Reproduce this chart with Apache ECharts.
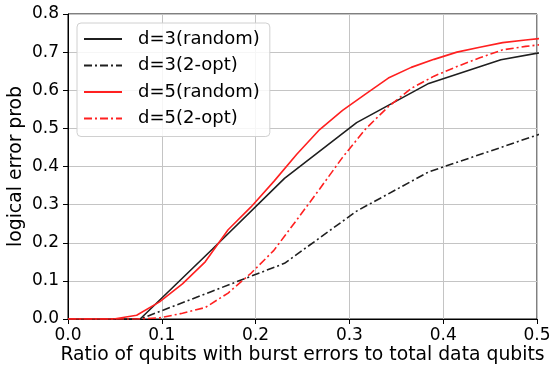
<!DOCTYPE html>
<html>
<head>
<meta charset="utf-8">
<script src="https://cdn.jsdelivr.net/npm/echarts@6/dist/echarts.min.js"></script>
<style>html,body{margin:0;padding:0;background:#fff}#c{width:550px;height:367px}</style>
</head>
<body>
<div id="c"></div>
<script>
// x positions (fraction of data qubits) for d=3 and d=5
const d3X = [0, 0.0769, 0.1538, 0.2308, 0.3077, 0.3846, 0.4615, 0.5385];
const d3Random = [0, 0, 0.183, 0.369, 0.515, 0.618, 0.68, 0.714];
const d3TwoOpt = [0, 0, 0.073, 0.146, 0.283, 0.386, 0.45, 0.515];

const d5X = [0, 0.0244, 0.0488, 0.0732, 0.0976, 0.122, 0.1463, 0.1707, 0.1951, 0.2195, 0.2439,
  0.2683, 0.2927, 0.3171, 0.3415, 0.3659, 0.3902, 0.4146, 0.439, 0.4634, 0.4878, 0.5122];
const d5Random = [0, 0, 0, 0.01, 0.045, 0.092, 0.15, 0.234, 0.294, 0.361, 0.432,
  0.497, 0.547, 0.59, 0.632, 0.66, 0.681, 0.70, 0.713, 0.725, 0.732, 0.738];
const d5TwoOpt = [0, 0, 0, 0, 0.003, 0.015, 0.03, 0.068, 0.12, 0.18, 0.26,
  0.341, 0.424, 0.498, 0.557, 0.605, 0.637, 0.662, 0.685, 0.706, 0.715, 0.722];

const seriesNames = ['d=3(random)', 'd=3(2-opt)', 'd=5(random)', 'd=5(2-opt)'];
const xTicks = ['0.0', '0.1', '0.2', '0.3', '0.4', '0.5'];
const yTicks = ['0.0', '0.1', '0.2', '0.3', '0.4', '0.5', '0.6', '0.7', '0.8'];

const pair = (xs, ys) => xs.map((x, i) => [x, ys[i]]);
const BLACK = '#1f1f1f', RED = '#ff2020';
const DASHDOT = [8, 3, 2, 3];
const font = 'DejaVu Sans';

function mk(name, xs, ys, color, dash) {
  return {
    name, type: 'line', data: pair(xs, ys), symbol: 'none', showSymbol: false,
    clip: true, animation: false,
    lineStyle: { color, width: 1.6, type: dash ? DASHDOT : 'solid' },
    itemStyle: { color }
  };
}

const chart = echarts.init(document.getElementById('c'), null, { renderer: 'canvas' });
chart.setOption({
  animation: false,
  backgroundColor: '#fff',
  textStyle: { fontFamily: font },
  grid: { left: 68, right: 13, top: 14, bottom: 48, containLabel: false, outerBoundsMode: 'none',
    show: true, borderColor: '#000', borderWidth: 1, backgroundColor: 'transparent' },
  xAxis: {
    type: 'value', min: 0, max: 0.5, interval: 0.1,
    name: 'Ratio of qubits with burst errors to total data qubits',
    nameLocation: 'middle', nameGap: 27, nameMoveOverlap: false,
    nameTextStyle: { fontFamily: font, fontSize: 18.8, color: '#000' },
    axisLine: { show: true, lineStyle: { color: '#000', width: 1 } },
    axisTick: { show: true, inside: false, length: 5, lineStyle: { color: '#000' } },
    axisLabel: { fontFamily: font, fontSize: 17, color: '#000', margin: 8,
      formatter: v => xTicks[Math.round(v * 10)] },
    splitLine: { show: true, lineStyle: { color: '#c4c4c4', width: 1 } }
  },
  yAxis: {
    type: 'value', min: 0, max: 0.8, interval: 0.1,
    name: 'logical error prob',
    nameLocation: 'middle', nameGap: 42, nameMoveOverlap: false,
    nameTextStyle: { fontFamily: font, fontSize: 18.8, color: '#000' },
    axisLine: { show: true, lineStyle: { color: '#000', width: 1 } },
    axisTick: { show: true, inside: false, length: 5, lineStyle: { color: '#000' } },
    axisLabel: { fontFamily: font, fontSize: 17, color: '#000', margin: 9,
      formatter: v => yTicks[Math.round(v * 10)] },
    splitLine: { show: true, lineStyle: { color: '#c4c4c4', width: 1 } }
  },
  legend: {
    data: seriesNames,
    orient: 'vertical', left: 77, top: 23,
    itemWidth: 38, itemHeight: 14, itemGap: 8.5,
    padding: [7, 10, 9, 6],
    backgroundColor: 'rgba(255,255,255,0.85)',
    borderColor: '#d0d0d0', borderWidth: 1, borderRadius: 4,
    itemStyle: { opacity: 0 },
    formatter: n => '{t|' + n + '}',
    textStyle: { fontFamily: font, fontSize: 18, color: '#000', lineHeight: 18,
      rich: { t: { fontFamily: font, fontSize: 18, color: '#000', lineHeight: 18, padding: [0, 0, 0, 11] } } }
  },
  series: [
    mk(seriesNames[0], d3X, d3Random, BLACK, false),
    mk(seriesNames[1], d3X, d3TwoOpt, BLACK, true),
    mk(seriesNames[2], d5X, d5Random, RED, false),
    mk(seriesNames[3], d5X, d5TwoOpt, RED, true)
  ]
});
</script>
</body>
</html>
